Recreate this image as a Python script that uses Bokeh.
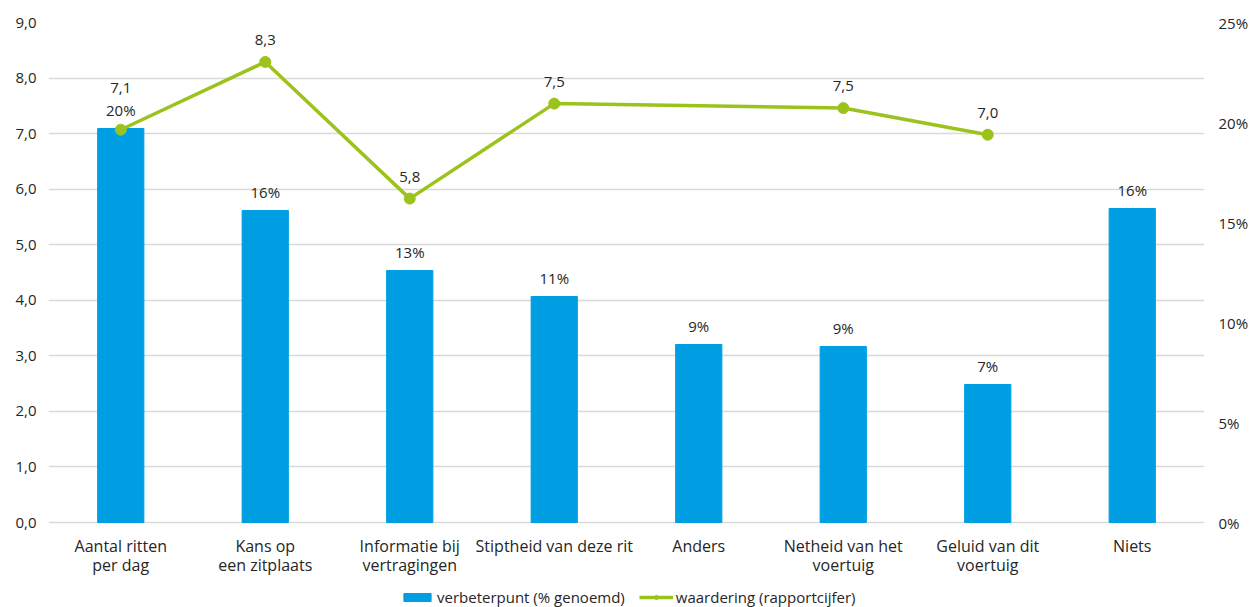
from bokeh.plotting import figure
from bokeh.models import (ColumnDataSource, Range1d, LinearAxis, Legend, LegendItem,
                          FixedTicker)
from bokeh.core.properties import value
from bokeh.embed import file_html
from bokeh.resources import INLINE

categories = ["Aantal ritten\nper dag", "Kans op\neen zitplaats", "Informatie bij\nvertragingen",
              "Stiptheid van deze rit", "Anders", "Netheid van het\nvoertuig",
              "Geluid van dit\nvoertuig", "Niets"]
pct_values = [19.7, 15.6, 12.6, 11.3, 8.9, 8.8, 6.9, 15.7]
pct_labels = ["20%", "16%", "13%", "11%", "9%", "9%", "7%", "16%"]
rating_values = [7.07, 8.29, 5.83, 7.54, None, 7.46, 6.98, None]
rating_labels = ["7,1", "8,3", "5,8", "7,5", None, "7,5", "7,0", None]
left_ticks = [0, 1, 2, 3, 4, 5, 6, 7, 8, 9]
right_ticks = [0, 5, 10, 15, 20, 25]

FONT = "Open Sans"
BLUE = "#009FE3"
GREEN = "#9BC31C"
TXT = "#262626"

# plot area: values 0..max occupy the top 500 px; the remaining 85 px below hold labels/legend
DATA_PX, EXTRA_PX = 500, 85
L_MAX, R_MAX = 9, 25
p = figure(x_range=categories,
           y_range=Range1d(-L_MAX * EXTRA_PX / DATA_PX, L_MAX),
           frame_width=1156, frame_height=DATA_PX + EXTRA_PX,
           output_backend="svg", toolbar_location=None,
           min_border_left=48, min_border_right=55, min_border_top=22, min_border_bottom=0)
p.extra_y_ranges = {"pct": Range1d(-R_MAX * EXTRA_PX / DATA_PX, R_MAX)}
p.outline_line_color = None
p.background_fill_color = "white"

bar_src = ColumnDataSource(dict(x=categories, top=pct_values, lab=pct_labels))
bars = p.vbar(x="x", top="top", bottom=0, width=0.32, color=BLUE, y_range_name="pct",
              source=bar_src)
p.text(x="x", y="top", text="lab", source=bar_src, y_range_name="pct",
       text_align="center", text_baseline="middle", y_offset=-19,
       text_font=value(FONT), text_font_size="15px", text_color=TXT)

lx = [c for c, v in zip(categories, rating_values) if v is not None]
ly = [v for v in rating_values if v is not None]
ll = [l for l in rating_labels if l is not None]
offs = [-42 if c == categories[0] else -22 for c in lx]
line_src = ColumnDataSource(dict(x=lx, y=ly, lab=ll, off=offs))
ln = p.line(x="x", y="y", source=line_src, line_color=GREEN, line_width=3.5)
mk = p.scatter(x="x", y="y", source=line_src, size=11, fill_color=GREEN, line_color=GREEN)
p.text(x="x", y="y", text="lab", source=line_src, y_offset="off",
       text_align="center", text_baseline="middle",
       text_font=value(FONT), text_font_size="15px", text_color=TXT)

# category labels (two lines) under the baseline
first = [c.split("\n")[0] for c in categories]
second = [c.split("\n")[1] if "\n" in c else "" for c in categories]
cat_src = ColumnDataSource(dict(x=categories, y=[0] * len(categories), t1=first, t2=second))
for col, off in (("t1", 23), ("t2", 42)):
    p.text(x="x", y="y", text=col, source=cat_src, y_offset=off,
           text_align="center", text_baseline="middle",
           text_font=value(FONT), text_font_size="16px", text_color=TXT)
p.xaxis.visible = False

# y axes
p.yaxis.ticker = FixedTicker(ticks=left_ticks)
p.yaxis.major_label_overrides = {t: f"{t:.1f}".replace(".", ",") for t in left_ticks}
ra = LinearAxis(y_range_name="pct", ticker=FixedTicker(ticks=right_ticks))
ra.major_label_overrides = {t: f"{t}%" for t in right_ticks}
p.add_layout(ra, "right")

for ax in [p.yaxis[0], ra]:
    ax.axis_line_color = None
    ax.major_tick_line_color = None
    ax.minor_tick_line_color = None
    ax.major_tick_out = 0
    ax.major_tick_in = 0
    ax.major_label_text_font = FONT
    ax.major_label_text_font_size = "15px"
    ax.major_label_text_color = TXT
p.yaxis[0].major_label_standoff = 12
ra.major_label_standoff = 14

p.xgrid.grid_line_color = None
p.ygrid.grid_line_color = "#D9D9D9"
p.ygrid.grid_line_width = 1.3

legend = Legend(items=[LegendItem(label="verbeterpunt (% genoemd)", renderers=[bars]),
                       LegendItem(label="waardering (rapportcijfer)", renderers=[ln, mk])],
                orientation="horizontal", location=(352, 0),
                label_text_font=FONT, label_text_font_size="15px", label_text_color=TXT,
                glyph_width=34, glyph_height=10, label_standoff=3, spacing=14,
                label_height=14,
                border_line_color=None, background_fill_alpha=0, padding=0, margin=0)
p.add_layout(legend, "center")

open("out.html", "w").write(file_html(p, INLINE))
